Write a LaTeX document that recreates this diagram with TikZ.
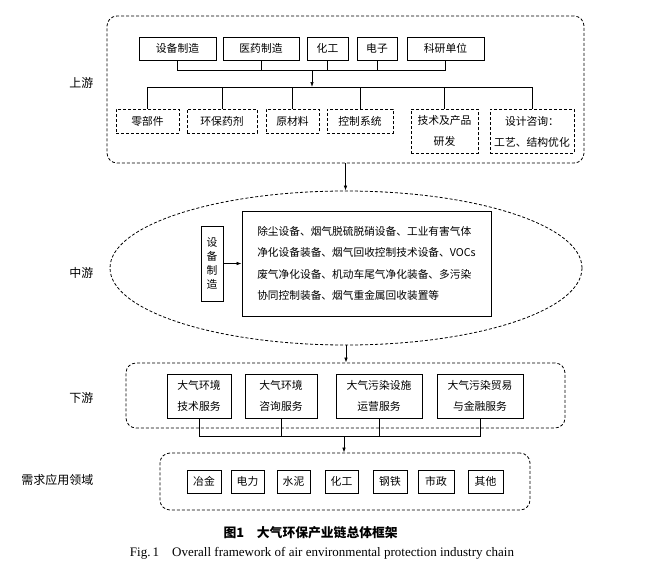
\documentclass[tikz,border=0pt]{standalone}
\usepackage{fontspec}
\setmainfont{Liberation Serif}
\newfontfamily\cjk{Noto Sans CJK SC}
\usetikzlibrary{arrows.meta,shapes.geometric}

\begin{document}
\begin{tikzpicture}[x=1pt,y=-1pt,
      box/.style={draw,line width=0.8pt,inner sep=0pt,align=center,font=\cjk\fontsize{10.8}{21}\selectfont},
      dbox/.style={box,dash pattern=on 3pt off 2pt},
      grp/.style={draw,line width=0.8pt,dash pattern=on 3pt off 2pt,rounded corners=10pt,inner sep=0pt},
      lbl/.style={font=\cjk\fontsize{12}{14}\selectfont,anchor=east},
      bus/.style={line width=0.7pt},
      arr/.style={bus,-{Latex[length=5pt,width=3.5pt]}}]
    \useasboundingbox (0,0) rectangle (661,574);
    % dashed groups
    \node[grp,minimum width=477,minimum height=147] (up) at (345.5,89.5) {};
    \node[draw,ellipse,line width=0.8pt,dash pattern=on 3pt off 2pt,inner sep=0pt,
          minimum width=472,minimum height=154] (mid) at (346,268) {};
    \node[grp,minimum width=439,minimum height=65] (down) at (345.5,395.5) {};
    \node[grp,minimum width=370,minimum height=57] (use) at (345,481.5) {};
    % left labels
    \node[lbl] (l1) at (97,83) {上游};
    \node[lbl] (l2) at (97,273) {中游};
    \node[lbl] (l3) at (97,398) {下游};
    \node[lbl] (l4) at (97,480) {需求应用领域};
    % upstream
    \foreach \n/\x/\w/\t in {1/177.5/77/设备制造,2/261/76/医药制造,3/327.5/41/化工,4/377/40/电子,5/445.5/77/科研单位}
      \node[box,minimum width=\w,minimum height=23] (sb\n) at (\x,48.5) {\t};
    \coordinate (h1) at (312,70);
    \coordinate (h2) at (312,87);
    \foreach \n in {1,...,5} \draw[bus] (sb\n.south) |- (h1);
    \draw[arr] (h1) -- (h2);
    \foreach \n/\x/\w/\h/\t in {1/147.5/63/24/零部件,2/222/70/24/环保药剂,3/292.5/53/24/原材料,4/360/66/24/控制系统,
        5/444.5/67/44/{技术及产品\\研发},6/532/84/44/{设计咨询：\\工艺、结构优化}}
      \node[dbox,minimum width=\w,minimum height=\h,anchor=north] (pa\n) at (\x,109) {\t};
    \foreach \n in {1,...,6} \draw[bus] (h2) -| (pa\n.north);
    \draw[arr] (up.south) -- (up.south |- mid.north);
    % midstream
    \node[box,minimum width=22,minimum height=75,font=\cjk\fontsize{10.8}{14}\selectfont] (vb) at (212,263.5) {设\\备\\制\\造};
    \node[box,minimum width=249,minimum height=105,align=left,font=\cjk\fontsize{10.7}{21.5}\selectfont] (eq) at (366.5,263.5)
      {除尘设备、烟气脱硫脱硝设备、工业有害气体\\净化设备装备、烟气回收控制技术设备、VOCs\\废气净化设备、机动车尾气净化装备、多污染\\协同控制装备、烟气重金属回收装置等};
    \draw[arr] (vb.east) -- (eq.west);
    \draw[arr] (mid.south) -- (mid.south |- down.north);
    % downstream
    \foreach \n/\x/\w/\t in {1/199/64/{大气环境\\技术服务},2/281/72/{大气环境\\咨询服务},3/379/86/{大气污染设施\\运营服务},4/480/86/{大气污染贸易\\与金融服务}}
      \node[box,minimum width=\w,minimum height=44] (ds\n) at (\x,396) {\t};
    \coordinate (h3) at (344,436);
    \foreach \n in {1,...,4} \draw[bus] (ds\n.south) |- (h3);
    \draw[arr] (h3) -- (h3 |- use.north);
    % application fields
    \foreach \n/\x/\w/\t in {1/204/34/冶金,2/247.5/33/电力,3/293.5/33/水泥,4/341.5/33/化工,5/390/34/钢铁,6/436/36/市政,7/485.5/35/其他}
      \node[box,minimum width=\w,minimum height=23] (ap\n) at (\x,481.5) {\t};
    % caption
    \node[font=\cjk\bfseries\fontsize{12.8}{15}\selectfont,anchor=west] (cap) at (220,533) {图1\quad 大气环保产业链总体框架};
    \node[font=\fontsize{13}{15}\selectfont] (capen) at (322,553) {Fig.\,1\quad Overall framework of air environmental protection industry chain};
  \end{tikzpicture}
\end{document}
